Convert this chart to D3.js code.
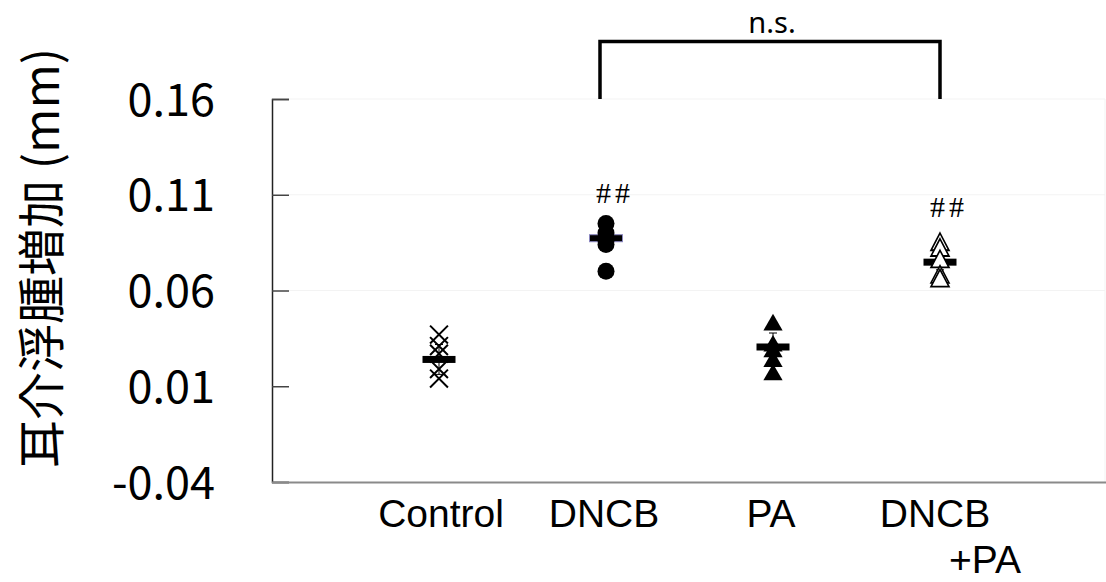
<!DOCTYPE html>
<html><head><meta charset="utf-8">
<script src="https://cdn.jsdelivr.net/npm/d3@7"></script>
<style>html,body{margin:0;padding:0;background:#fff;}svg{display:block;}</style>
</head><body>
<svg id="chart" width="1106" height="582"></svg>
<script>
// ---- data ----
const categories = ["Control", "DNCB", "PA", "DNCB+PA"];
const controlValues = [0.037, 0.031, 0.027, 0.019, 0.014];
const dncbValues = [0.095, 0.090, 0.086, 0.084, 0.070];
const paValues = [0.042, 0.031, 0.028, 0.023, 0.016];
const dncbPaValues = [0.084, 0.081, 0.075, 0.067, 0.065];
const means = [0.024, 0.0873, 0.0305, 0.0748];
const errors = [0.0078, 0.0068, 0.0073, 0.004];
const yTicks = [-0.04, 0.01, 0.06, 0.11, 0.16];
const sigMarks = ["", "##", "", "##"];
const sigLevels = [null, 0.1055, null, 0.0982];
const bracketLevel = 0.19;
const bracketFoot = 0.16;
const bracketLabel = "n.s.";
const yTitle = "耳介浮腫増加 (mm)";

const svg = d3.select("#chart");
const L = 272, R = 1105, T = 99, B = 482;
const y = d3.scaleLinear().domain([-0.04, 0.16]).range([B, T]);
const x = d3.scalePoint().domain(["_s", ...categories, "_e"]).range([L, L + 167 * 5]);

const cjk = "'Noto Sans CJK JP', 'Noto Sans', sans-serif";
const lat = "'Liberation Sans', Arial, sans-serif";

// faint gridlines
svg.append("g").selectAll("line").data(yTicks.filter(t => t > 0.03)).join("line")
  .attr("x1", L + 17).attr("x2", R).attr("y1", d => y(d)).attr("y2", d => y(d))
  .attr("stroke", "#f3f3f3").attr("stroke-width", 1);
svg.append("line").attr("x1", R).attr("x2", R).attr("y1", T).attr("y2", B)
  .attr("stroke", "#f3f3f3");

// y axis
const yAxis = d3.axisLeft(y).tickValues(yTicks).tickSize(-17).tickPadding(57)
  .tickFormat(d => d3.format(".2f")(d).replace("−", "-"));
const gy = svg.append("g").attr("transform", `translate(${L},0)`).call(yAxis);
gy.select(".domain").attr("stroke", "#222").attr("stroke-width", 1.5);
gy.selectAll(".tick line").attr("stroke", "#444").attr("stroke-width", 1.5);
gy.selectAll(".tick text").attr("font-family", cjk).attr("font-size", 45).attr("fill", "#000")
  .attr("dy", "0.36em");

// x axis baseline
svg.append("line").attr("x1", L).attr("x2", 1106).attr("y1", B + 0.5).attr("y2", B + 0.5)
  .attr("stroke", "#8a8a8a").attr("stroke-width", 2);

// x labels
const xl = svg.append("g").attr("font-family", lat).attr("font-size", 39);
categories.forEach((c, i) => {
  if (c === "DNCB+PA") {
    xl.append("text").attr("x", x(c) - 5).attr("y", 527).attr("text-anchor", "middle").text("DNCB");
    xl.append("text").attr("x", x(c) + 45).attr("y", 573).attr("text-anchor", "middle").text("+PA");
  } else {
    xl.append("text").attr("x", x(c) + (i === 0 ? 2 : -2)).attr("y", 527).attr("text-anchor", "middle").text(c);
  }
});

// y title
svg.append("text").attr("transform", "translate(38,258) rotate(-90)")
  .attr("text-anchor", "middle").attr("dominant-baseline", "central")
  .attr("font-family", cjk).attr("font-size", 48).text(yTitle);

// error bars
const eb = svg.append("g").attr("stroke", "#000").attr("stroke-width", 1);
categories.forEach((c, i) => {
  const cx = x(c), m = means[i], e = errors[i];
  eb.append("line").attr("x1", cx).attr("x2", cx).attr("y1", y(m - e)).attr("y2", y(m + e));
  [m - e, m + e].forEach(v => eb.append("line").attr("x1", cx - 4).attr("x2", cx + 4)
    .attr("y1", y(v)).attr("y2", y(v)));
});

// mean bars
svg.append("g").selectAll("rect").data(categories).join("rect")
  .attr("x", c => x(c) - 16.5).attr("width", 33)
  .attr("y", (c, i) => y(means[i]) - 3.5).attr("height", 7)
  .attr("fill", "#000")
  .attr("stroke", (c, i) => i === 1 ? "#8a86c0" : "none").attr("stroke-width", 1);

// markers
const mk = svg.append("g");
mk.selectAll(".cross").data(controlValues).join("path")
  .attr("d", d3.symbol(d3.symbolX, 210)())
  .attr("transform", d => `translate(${x("Control")},${y(d)})`)
  .attr("fill", "none").attr("stroke", "#000").attr("stroke-width", 2);
mk.selectAll(".circ").data(dncbValues).join("circle")
  .attr("cx", x("DNCB")).attr("cy", d => y(d)).attr("r", 8.5).attr("fill", "#000");
mk.selectAll(".tri").data(paValues).join("path")
  .attr("d", d3.symbol(d3.symbolTriangle, 160)())
  .attr("transform", d => `translate(${x("PA")},${y(d)})`)
  .attr("fill", "#000");
mk.selectAll(".otri").data(dncbPaValues).join("path")
  .attr("d", d3.symbol(d3.symbolTriangle, 140)())
  .attr("transform", d => `translate(${x("DNCB+PA")},${y(d)}) scale(1,1.1)`)
  .attr("fill", "#fff").attr("stroke", "#000").attr("stroke-width", 1.6);

// significance marks
categories.forEach((c, i) => {
  if (!sigMarks[i]) return;
  svg.append("text").attr("x", x(c) + 9).attr("y", y(sigLevels[i]))
    .attr("text-anchor", "middle").attr("font-family", "'Liberation Serif', serif")
    .attr("font-size", 30).attr("letter-spacing", 4)
    .text(sigMarks[i]);
});

// bracket
const bx1 = x("DNCB") - 6, bx2 = x("DNCB+PA");
svg.append("path")
  .attr("d", `M${bx1},${y(bracketFoot)} V${y(bracketLevel)} H${bx2} V${y(bracketFoot)}`)
  .attr("fill", "none").attr("stroke", "#000").attr("stroke-width", 3.5);
svg.append("text").attr("x", (bx1 + bx2) / 2 + 2).attr("y", 33).attr("text-anchor", "middle")
  .attr("font-family", "'Noto Sans', sans-serif").attr("font-size", 29).text(bracketLabel);
</script>
</body></html>
